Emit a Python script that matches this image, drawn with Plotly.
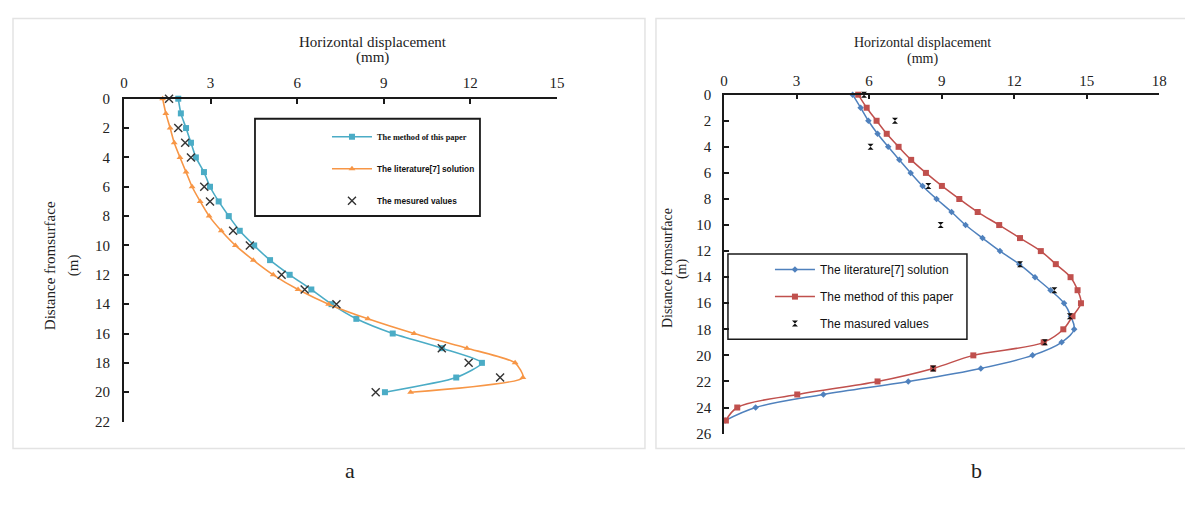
import plotly.graph_objects as go

FW, FH = 1193, 508
# observed page placement of the figure: offset and scale
OX, OY, SX, SY = 12.0, 16.5, 0.99, 0.966

# ---------------- data: panel a ----------------
depth_a = list(range(0, 21))
method_a = [1.88, 1.97, 2.15, 2.32, 2.49, 2.77, 2.98, 3.28, 3.63, 4.01, 4.51,
            5.06, 5.74, 6.49, 7.19, 8.05, 9.31, 11.01, 12.40, 11.51, 9.04]
lit_a = [1.34, 1.45, 1.60, 1.74, 1.94, 2.15, 2.36, 2.64, 2.95, 3.37, 3.86,
         4.48, 5.17, 6.03, 7.09, 8.45, 10.05, 11.88, 13.55, 13.82, 9.93]
meas_depth_a = [0, 2, 3, 4, 6, 7, 9, 10, 12, 13, 14, 17, 18, 19, 20]
meas_a = [1.56, 1.88, 2.12, 2.32, 2.78, 2.98, 3.78, 4.36, 5.46, 6.26, 7.36,
          11.01, 11.94, 13.03, 8.72]

# ---------------- data: panel b ----------------
depth_b = list(range(0, 26))
lit_b = [5.32, 5.65, 5.97, 6.35, 6.79, 7.25, 7.72, 8.21, 8.79, 9.41, 9.99,
         10.69, 11.41, 12.21, 12.86, 13.50, 14.06, 14.34, 14.48, 13.96, 12.76,
         10.62, 7.62, 4.11, 1.31, 0.05]
method_b = [5.55, 5.90, 6.31, 6.73, 7.22, 7.74, 8.35, 9.01, 9.73, 10.49, 11.38,
            12.24, 13.10, 13.72, 14.33, 14.62, 14.76, 14.41, 14.03, 13.22, 10.31,
            8.65, 6.35, 3.03, 0.55, 0.08]
meas_depth_b = [0, 2, 4, 7, 10, 13, 15, 17, 19, 21]
meas_b = [5.79, 7.07, 6.06, 8.45, 8.96, 12.24, 13.66, 14.30, 13.27, 8.65]

ticks_a = [0, 3, 6, 9, 12, 15]
ticks_b = [0, 3, 6, 9, 12, 15, 18]

x_title_1, x_title_2 = "Horizontal displacement", "(mm)"
y_title_1, y_title_2 = "Distance fromsurface", "(m)"

SERIF = "Liberation Serif"
SANS = "Liberation Sans"


def px(x):
    return ((x - OX) / SX) / FW


def py(y):
    return 1 - ((y - OY) / SY) / FH


fig = go.Figure()

# panel a traces
fig.add_trace(go.Scatter(
    x=method_a, y=depth_a, mode="lines+markers", name="<b>The method of this paper</b>",
    line=dict(color="#4BACC6", width=1.6, shape="spline", smoothing=0.6),
    marker=dict(symbol="square", size=6, color="#4BACC6"),
    xaxis="x", yaxis="y", legend="legend", legendgroup="a1", cliponaxis=False))
fig.add_trace(go.Scatter(
    x=lit_a, y=depth_a, mode="lines+markers",
    name="<span style='font-family:Liberation Sans'><b>The literature[7] solution</b></span>",
    line=dict(color="#F79646", width=1.6, shape="spline", smoothing=0.6),
    marker=dict(symbol="triangle-up", size=6, color="#F79646"),
    xaxis="x", yaxis="y", legend="legend", legendgroup="a2", cliponaxis=False))
fig.add_trace(go.Scatter(
    x=meas_a, y=meas_depth_a, mode="markers",
    name="<span style='font-family:Liberation Sans'><b>The mesured values</b></span>",
    marker=dict(symbol="x-thin", size=8, color="#333333",
                line=dict(color="#333333", width=1.4)),
    xaxis="x", yaxis="y", legend="legend", legendgroup="a3", cliponaxis=False))

# panel b traces
fig.add_trace(go.Scatter(
    x=lit_b, y=depth_b, mode="lines+markers", name="The literature[7] solution",
    line=dict(color="#4F81BD", width=1.5, shape="spline", smoothing=1.0),
    marker=dict(symbol="diamond", size=5, color="#4F81BD"),
    xaxis="x2", yaxis="y2", legend="legend2", legendgroup="b1", cliponaxis=False))
fig.add_trace(go.Scatter(
    x=method_b, y=depth_b, mode="lines+markers", name="The method of this paper",
    line=dict(color="#C0504D", width=1.5, shape="spline", smoothing=1.0),
    marker=dict(symbol="square", size=6, color="#C0504D"),
    xaxis="x2", yaxis="y2", legend="legend2", legendgroup="b2", cliponaxis=False))
fig.add_trace(go.Scatter(
    x=meas_b, y=meas_depth_b, mode="markers", name="The masured values",
    marker=dict(symbol="hourglass", size=6, color="#111111"),
    xaxis="x2", yaxis="y2", legend="legend2", legendgroup="b3", cliponaxis=False))

axis_common = dict(showgrid=False, zeroline=False, showline=True,
                   linecolor="#1a1a1a", ticks="inside", ticklen=5,
                   tickcolor="#1a1a1a",
                   tickfont=dict(family=SERIF, size=15, color="#222222"))

fig.update_layout(
    width=FW, height=FH,
    margin=dict(l=0, r=0, t=0, b=0),
    paper_bgcolor="white", plot_bgcolor="rgba(0,0,0,0)",
    showlegend=True,
    xaxis=dict(domain=[px(124), px(557)], anchor="y", side="top",
               range=[0, 15], tickvals=ticks_a, linewidth=2, tickwidth=2,
               ticklabelstandoff=3, **axis_common),
    yaxis=dict(domain=[py(421), py(99)], anchor="x", range=[22, 0],
               dtick=2, linewidth=2, tickwidth=2, ticklabelstandoff=9,
               **axis_common),
    xaxis2=dict(domain=[px(724), px(1159.4)], anchor="y2", side="top",
                range=[0, 18], tickvals=ticks_b, linewidth=1.5, tickwidth=1.5,
                ticklabelstandoff=1, **axis_common),
    yaxis2=dict(domain=[py(433), py(95)], anchor="x2", range=[26, 0],
                dtick=2, linewidth=1.5, tickwidth=1.5, ticklabelstandoff=8,
                **axis_common),
    legend=dict(x=px(327), y=py(122.5), xanchor="left", yanchor="top",
                bgcolor="rgba(0,0,0,0)", borderwidth=0,
                traceorder="grouped", tracegroupgap=13,
                font=dict(family=SERIF, size=8.3, color="#111111"),
                itemwidth=40),
    legend2=dict(x=px(770), y=py(255), xanchor="left", yanchor="top",
                 bgcolor="rgba(0,0,0,0)", borderwidth=0,
                 traceorder="grouped", tracegroupgap=8,
                 font=dict(family=SANS, size=12, color="#111111"),
                 itemwidth=40),
)

shapes = [
    # panel frames
    dict(type="rect", xref="paper", yref="paper", x0=px(13), x1=px(645),
         y0=py(448), y1=py(19), line=dict(color="#e3e3e3", width=1.5)),
    dict(type="rect", xref="paper", yref="paper", x0=px(656), x1=px(1189),
         y0=py(448), y1=py(19), line=dict(color="#e3e3e3", width=1.5)),
    # legend boxes
    dict(type="rect", xref="paper", yref="paper", x0=px(255), x1=px(480),
         y0=py(216), y1=py(119), line=dict(color="#1a1a1a", width=1.8)),
    dict(type="rect", xref="paper", yref="paper", x0=px(728), x1=px(967),
         y0=py(339), y1=py(254), line=dict(color="#1a1a1a", width=1.5)),
]
fig.update_layout(shapes=shapes)


def ann(text, x, y, size, angle=0):
    return dict(text=text, x=px(x), y=py(y), xref="paper", yref="paper",
                xanchor="center", yanchor="middle", textangle=angle,
                showarrow=False, font=dict(family=SERIF, size=size, color="#222222"))


annotations = [
    ann(x_title_1, 373, 42, 15),
    ann(x_title_2, 373, 58, 15),
    ann(x_title_1, 923, 43, 14),
    ann(x_title_2, 923, 59, 14),
    ann(y_title_1, 50, 265, 15, -90),
    ann(y_title_2, 73, 265, 15, -90),
    ann(y_title_1, 667, 268, 14, -90),
    ann(y_title_2, 682, 268, 14, -90),
    ann("a", 350, 470, 22),
    ann("b", 977, 470, 22),
]
fig.update_layout(annotations=annotations)

fig.write_html("out.html")
